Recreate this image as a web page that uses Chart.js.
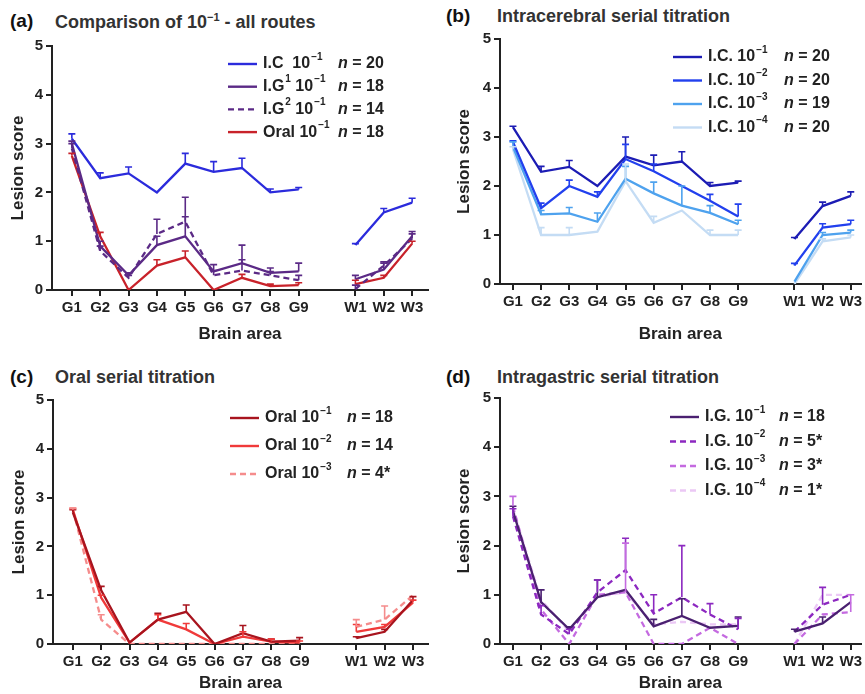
<!DOCTYPE html>
<html>
<head>
<meta charset="utf-8">
<script src="https://cdn.jsdelivr.net/npm/chart.js@4.4.1/dist/chart.umd.min.js"></script>
<style>
  body { margin:0; background:#fff; font-family:"Liberation Sans", Arial, sans-serif; }
  #wrap { position:relative; width:865px; height:694px; overflow:hidden; }
  canvas { position:absolute; }
  .lbl { position:absolute; font-weight:bold; font-size:19px; color:#111; }
  .ttl { position:absolute; font-weight:bold; font-size:18px; color:#333; white-space:nowrap; }
  .ttl sup { font-size:11px; }
</style>
</head>
<body>
<div id="wrap">
  <div class="lbl" style="left:10px;top:10px">(a)</div>
  <div class="ttl" style="left:55px;top:11px">Comparison of 10<sup>&minus;1</sup> - all routes</div>
  <div class="lbl" style="left:446px;top:5px">(b)</div>
  <div class="ttl" style="left:497px;top:6px">Intracerebral serial titration</div>
  <div class="lbl" style="left:10px;top:366px">(c)</div>
  <div class="ttl" style="left:55px;top:367px">Oral serial titration</div>
  <div class="lbl" style="left:446px;top:366px">(d)</div>
  <div class="ttl" style="left:497px;top:367px">Intragastric serial titration</div>

  <canvas id="ca" width="432" height="345" style="left:0;top:0"></canvas>
  <canvas id="cb" width="433" height="345" style="left:432px;top:0"></canvas>
  <canvas id="cc" width="432" height="349" style="left:0;top:345px"></canvas>
  <canvas id="cd" width="433" height="349" style="left:432px;top:345px"></canvas>
</div>
<script>
// brain areas, index 9 is the gap between G9 and W1
const categories = ['G1','G2','G3','G4','G5','G6','G7','G8','G9','','W1','W2','W3'];
const tickIdx = [0,1,2,3,4,5,6,7,8,10,11,12];
const yTicks = [0,1,2,3,4,5];

// (a) comparison of 10^-1, all routes
const aIC = [3.1,2.29,2.39,2.0,2.59,2.42,2.5,2.0,2.06,null,0.92,1.59,1.79];
const aICErr = [3.2,2.4,2.52,null,2.8,2.63,2.7,2.07,2.1,null,0.95,1.67,1.88];
const aIG1 = [3.0,0.9,0.3,0.92,1.1,0.38,0.55,0.35,0.38,null,0.22,0.42,1.1];
const aIG1Err = [3.05,1.0,0.35,1.1,1.5,0.52,0.92,0.45,0.55,null,0.3,0.55,1.2];
const aIG2 = [2.9,0.8,0.25,1.15,1.4,0.3,0.4,0.3,0.2,null,0.02,0.5,1.05];
const aIG2Err = [3.0,0.9,0.3,1.45,1.9,0.4,0.62,0.38,0.3,null,0.1,0.58,1.15];
const aOral = [2.75,1.1,0.0,0.5,0.67,0.0,0.25,0.08,0.1,null,0.12,0.25,0.95];
const aOralErr = [2.8,1.18,null,0.62,0.8,null,0.32,0.12,0.15,null,0.2,0.3,1.0];

// (b) intracerebral serial titration
const bIC1 = [3.2,2.29,2.39,2.0,2.6,2.42,2.5,2.0,2.07,null,0.92,1.59,1.8];
const bIC1Err = [3.22,2.4,2.52,null,3.0,2.63,2.7,2.07,2.1,null,0.95,1.67,1.88];
const bIC2 = [2.9,1.55,2.0,1.78,2.55,2.3,2.0,1.7,1.38,null,0.38,1.15,1.22];
const bIC2Err = [2.92,1.65,2.12,1.88,2.85,2.45,null,1.83,1.63,null,0.42,1.23,1.3];
const bIC3 = [2.8,1.42,1.44,1.27,2.15,1.85,1.6,1.45,1.22,null,0.05,1.0,1.05];
const bIC3Err = [2.9,1.5,1.56,1.45,2.4,2.08,2.0,1.6,1.3,null,null,1.05,1.1];
const bIC4 = [2.75,1.0,1.0,1.07,2.1,1.25,1.5,1.0,1.0,null,0.0,0.87,0.95];
const bIC4Err = [2.8,1.15,1.15,null,2.45,1.38,null,1.1,1.1,null,null,0.92,1.0];

// (c) oral serial titration
const cO1 = [2.7,1.1,0.03,0.5,0.66,0.0,0.22,0.05,0.07,null,0.12,0.25,0.9];
const cO1Err = [2.75,1.18,null,0.63,0.8,null,0.38,0.1,0.13,null,0.15,0.3,0.97];
const cO2 = [2.75,0.95,0.03,0.5,0.3,0.0,0.15,0.05,0.03,null,0.25,0.35,0.85];
const cO2Err = [2.78,1.0,null,0.6,0.42,null,0.25,0.1,0.06,null,0.4,0.4,0.9];
const cO3 = [2.75,0.5,0.0,0.0,0.0,0.0,0.0,0.0,0.0,null,0.35,0.5,1.0];
const cO3Err = [2.78,0.6,null,null,null,null,null,null,null,null,0.5,0.78,null];

// (d) intragastric serial titration
const dIG1 = [2.7,0.85,0.3,0.95,1.1,0.36,0.57,0.33,0.37,null,0.25,0.42,0.85];
const dIG1Err = [2.8,1.1,0.35,1.3,null,0.5,0.92,null,0.55,null,0.3,0.55,null];
const dIG2 = [2.6,0.6,0.2,1.05,1.5,0.62,0.95,0.6,0.3,null,0.25,0.8,1.0];
const dIG2Err = [2.75,0.78,0.3,1.3,2.15,1.0,2.0,0.82,0.52,null,null,1.15,null];
const dIG3 = [2.8,0.7,0.0,1.0,1.05,0.0,0.0,0.33,0.0,null,0.0,0.6,0.65];
const dIG3Err = [3.0,null,null,null,2.05,null,null,null,null,null,null,null,1.0];
const dIG4 = [2.75,0.9,0.25,0.95,1.05,0.4,0.45,0.4,0.4,null,0.0,1.0,1.0];

const FONT = '"Liberation Sans", Arial, sans-serif';
const AXIS = '#222';

// draws the little upward error bars with caps
const errorBars = {
  id: 'errorBars',
  afterDatasetsDraw(chart) {
    const ctx = chart.ctx, xs = chart.scales.x, ys = chart.scales.y;
    chart.data.datasets.forEach((ds) => {
      if (!ds.err) return;
      ctx.save();
      ctx.strokeStyle = ds.borderColor;
      ctx.lineWidth = 1.6;
      ds.err.forEach((top, j) => {
        const v = ds.data[j].y;
        if (top == null || v == null) return;
        const px = xs.getPixelForValue(j);
        const y0 = ys.getPixelForValue(v), y1 = ys.getPixelForValue(top);
        ctx.beginPath();
        ctx.moveTo(px, y0); ctx.lineTo(px, y1);
        ctx.moveTo(px - 3.5, y1); ctx.lineTo(px + 3.5, y1);
        ctx.stroke();
      });
      ctx.restore();
    });
  }
};

// legend with superscripts and italic n
function drawSegs(ctx, x, y, segs) {
  segs.forEach(s => {
    if (s.sup) {
      ctx.font = 'bold 10px ' + FONT;
      ctx.fillText(s.t, x + 1, y - 7);
      x += ctx.measureText(s.t).width + 1;
    } else {
      ctx.font = 'bold 16px ' + FONT;
      ctx.fillText(s.t, x, y);
      x += ctx.measureText(s.t).width;
    }
  });
}
const legendRows = {
  id: 'legendRows',
  afterDraw(chart) {
    const L = chart.config.options.myLegend;
    if (!L) return;
    const ctx = chart.ctx;
    ctx.save();
    ctx.fillStyle = '#222';
    ctx.textBaseline = 'middle';
    chart.data.datasets.forEach((ds, i) => {
      const y = L.y + i * L.rowH;
      ctx.strokeStyle = ds.borderColor;
      ctx.lineWidth = 2.4;
      ctx.setLineDash(ds.borderDash || []);
      ctx.beginPath();
      ctx.moveTo(L.x, y); ctx.lineTo(L.x + 29, y);
      ctx.stroke();
      ctx.setLineDash([]);
      drawSegs(ctx, L.x + 35, y, ds.segs);
      ctx.font = 'italic bold 16px ' + FONT;
      ctx.fillText('n', L.nX, y);
      const w = ctx.measureText('n ').width;
      ctx.font = 'bold 16px ' + FONT;
      ctx.fillText('= ' + ds.n, L.nX + w, y);
    });
    ctx.restore();
  }
};

function series(vals, err, color, segs, n, dashed) {
  return {
    data: vals.map((v, i) => ({ x: i, y: v })),
    err: err,
    borderColor: color,
    backgroundColor: color,
    borderWidth: 2.3,
    borderDash: dashed ? [6, 4] : undefined,
    pointRadius: 0,
    spanGaps: false,
    segs: segs,
    n: n
  };
}
const t = (s) => ({ t: s });
const sup = (s) => ({ t: s, sup: true });

function makeChart(id, datasets, p) {
  new Chart(document.getElementById(id), {
    type: 'line',
    data: { datasets: datasets },
    plugins: [errorBars, legendRows],
    options: {
      responsive: false,
      animation: false,
      devicePixelRatio: 1,
      layout: { padding: { left: p.padL, right: p.padR, top: p.padT, bottom: 0 } },
      myLegend: p.legend,
      plugins: { legend: { display: false }, tooltip: { enabled: false } },
      scales: {
        x: {
          type: 'linear',
          min: p.xmin, max: p.xmax,
          afterFit: (s) => { s.height = p.xH; },
          afterBuildTicks: (s) => { s.ticks = tickIdx.map(v => ({ value: v })); },
          ticks: {
            callback: (v) => categories[v],
            font: { family: FONT, weight: 'bold', size: 15 },
            color: AXIS, padding: 3, maxRotation: 0, autoSkip: false
          },
          grid: { drawOnChartArea: false, drawTicks: true, tickLength: 6, color: AXIS, lineWidth: 2 },
          border: { display: true, color: AXIS, width: 2 },
          title: { display: true, text: 'Brain area', font: { family: FONT, weight: 'bold', size: 17 }, color: AXIS, padding: { top: 0, bottom: 0 } }
        },
        y: {
          min: 0, max: 5,
          afterFit: (s) => { s.width = p.yW; },
          afterBuildTicks: (s) => { s.ticks = yTicks.map(v => ({ value: v })); },
          ticks: { font: { family: FONT, weight: 'bold', size: 15 }, color: AXIS, padding: 3 },
          grid: { drawOnChartArea: false, drawTicks: true, tickLength: 6, color: AXIS, lineWidth: 2 },
          border: { display: true, color: AXIS, width: 2 },
          title: { display: true, text: 'Lesion score', font: { family: FONT, weight: 'bold', size: 17 }, color: AXIS, padding: { top: 0, bottom: 4 } }
        }
      }
    }
  });
}

makeChart('ca', [
  series(aIC, aICErr, '#2b2bdc', [t('I.C  10'), sup('\u22121')], 20),
  series(aIG1, aIG1Err, '#5b2a86', [t('I.G'), sup('1'), t(' 10'), sup('\u22121')], 18),
  series(aIG2, aIG2Err, '#5b2a86', [t('I.G'), sup('2'), t(' 10'), sup('\u22121')], 14, true),
  series(aOral, aOralErr, '#c8222a', [t('Oral 10'), sup('\u22121')], 18)
], { padL: 8, padR: 4, padT: 46, xH: 55, yW: 44, xmin: -0.7, xmax: 12.56,
     legend: { x: 228, y: 64, rowH: 22.7, nX: 338 } });

makeChart('cb', [
  series(bIC1, bIC1Err, '#1c1cb4', [t('I.C. 10'), sup('\u22121')], 20),
  series(bIC2, bIC2Err, '#2240ee', [t('I.C. 10'), sup('\u22122')], 20),
  series(bIC3, bIC3Err, '#4ea2ee', [t('I.C. 10'), sup('\u22123')], 19),
  series(bIC4, bIC4Err, '#c4dcf4', [t('I.C. 10'), sup('\u22124')], 20)
], { padL: 22, padR: 0, padT: 39, xH: 61, yW: 46, xmin: -0.46, xmax: 12.35,
     legend: { x: 241, y: 57, rowH: 23.5, nX: 352 } });

makeChart('cc', [
  series(cO1, cO1Err, '#a8141e', [t('Oral 10'), sup('\u22121')], 18),
  series(cO2, cO2Err, '#f03a3a', [t('Oral 10'), sup('\u22122')], 14),
  series(cO3, cO3Err, '#f58c8c', [t('Oral 10'), sup('\u22123')], '4*', true)
], { padL: 9, padR: 4, padT: 55, xH: 50, yW: 44, xmin: -0.7, xmax: 12.53,
     legend: { x: 230, y: 73, rowH: 28, nX: 347 } });

makeChart('cd', [
  series(dIG1, dIG1Err, '#4a2070', [t('I.G. 10'), sup('\u22121')], 18),
  series(dIG2, dIG2Err, '#8c28c0', [t('I.G. 10'), sup('\u22122')], '5*', true),
  series(dIG3, dIG3Err, '#c46ae0', [t('I.G. 10'), sup('\u22123')], '3*', true),
  series(dIG4, null, '#ebc8f5', [t('I.G. 10'), sup('\u22124')], '1*', true)
], { padL: 22, padR: 0, padT: 53, xH: 50, yW: 46, xmin: -0.46, xmax: 12.35,
     legend: { x: 238, y: 72, rowH: 24.5, nX: 347 } });
</script>
</body>
</html>
